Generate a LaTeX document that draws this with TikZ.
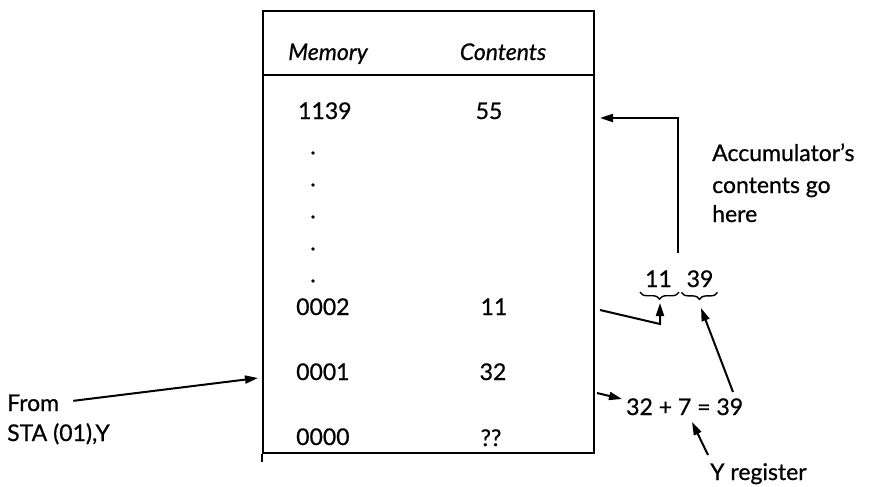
\documentclass[tikz,border=0pt]{standalone}
\usepackage{fontspec}
\setmainfont{Lato}[FakeBold=0.7]
\usetikzlibrary{arrows.meta,decorations.pathreplacing,calc}
\begin{document}
\begin{tikzpicture}[x=1pt,y=-1pt,
  txt/.style={font=\fontsize{23}{27}\selectfont, inner sep=0pt, anchor=base},
  hd/.style={font=\fontsize{23}{27}\selectfont\itshape, inner sep=0pt, anchor=base},
  frame/.style={line width=1.7pt},
  arr/.style={line width=2pt, -{Triangle[length=13pt,width=8pt]}},
  brc/.style={line width=1.4pt, decorate, decoration={brace,mirror,amplitude=7pt}},
  dotmark/.style={circle, fill, inner sep=0pt, minimum size=3.8pt}]
\useasboundingbox (0,0) rectangle (875,487);
% table frame
\node[frame, draw, minimum width=331pt, minimum height=442pt, inner sep=0pt] (tbl) at (428.5,232) {};
\draw[frame] (tbl.south west) -- ++(0,8);
\draw[frame] (tbl.west |- 0,75) -- (tbl.east |- 0,75);
% header
\node[hd] (hmem) at (328,60) {Memory};
\node[hd] (hcon) at (503,60) {Contents};
% rows
\node[txt, anchor=base west] (a1139) at (298,119) {1139};
\node[txt] (c55) at (489,119) {55};
\foreach \yy [count=\i] in {153,185,217,249,281} \node[dotmark] (d\i) at (313,\yy) {};
\node[txt, anchor=base west] (a0002) at (296,315) {0002};
\node[txt] (c11) at (494,315) {11};
\node[txt, anchor=base west] (a0001) at (296,380) {0001};
\node[txt] (c32) at (493,380) {32};
\node[txt, anchor=base west] (a0000) at (296,445) {0000};
\node[txt] (cqq) at (491,446) {??};
% left label
\node[txt, anchor=base west] (from) at (7,411) {From};
\node[txt, anchor=base west] (sta) at (7,441) {STA (01),Y};
\coordinate (fromtip) at (258,378);
\draw[arr] ($(from.east)+(14,-2)$) -- (fromtip);
% right side
\node[txt, anchor=base west] (acc1) at (712,161) {Accumulator's};
\node[txt, anchor=base west] (acc2) at (712,193) {contents go};
\node[txt, anchor=base west] (acc3) at (712,222) {here};
\node[txt] (n11) at (658.5,287) {11};
\node[txt] (n39) at (700,287) {39};
\draw[brc] ($(n11.south west)+(-5,5)$) -- ($(n11.south east)+(7,5)$);
\draw[brc] ($(n39.south west)+(-5,5)$) -- ($(n39.south east)+(4,5)$);
\coordinate (b11) at (660,303);
\coordinate (b39) at (701,308);
\coordinate (accstart) at (678,253);
\coordinate (acctip) at (600,118);
\draw[arr] (accstart) -- (accstart |- acctip) -- (acctip);
\coordinate (r2out) at (600,310);
\draw[arr] (r2out) -- (b11 |- 0,324) -- (b11);
\node[txt, anchor=base west] (eq) at (626,415) {32 + 7 = 39};
\coordinate (r1out) at (597,393);
\coordinate (eqin) at (622,399);
\draw[arr] (r1out) -- (eqin);
\draw[arr] (733,392) coordinate (eq39) -- (b39);
\node[txt, anchor=base west] (yreg) at (710,480) {Y register};
\coordinate (eq7) at (692,422);
\draw[arr] (708,455) coordinate (ystart) -- (eq7);
\end{tikzpicture}
\end{document}
